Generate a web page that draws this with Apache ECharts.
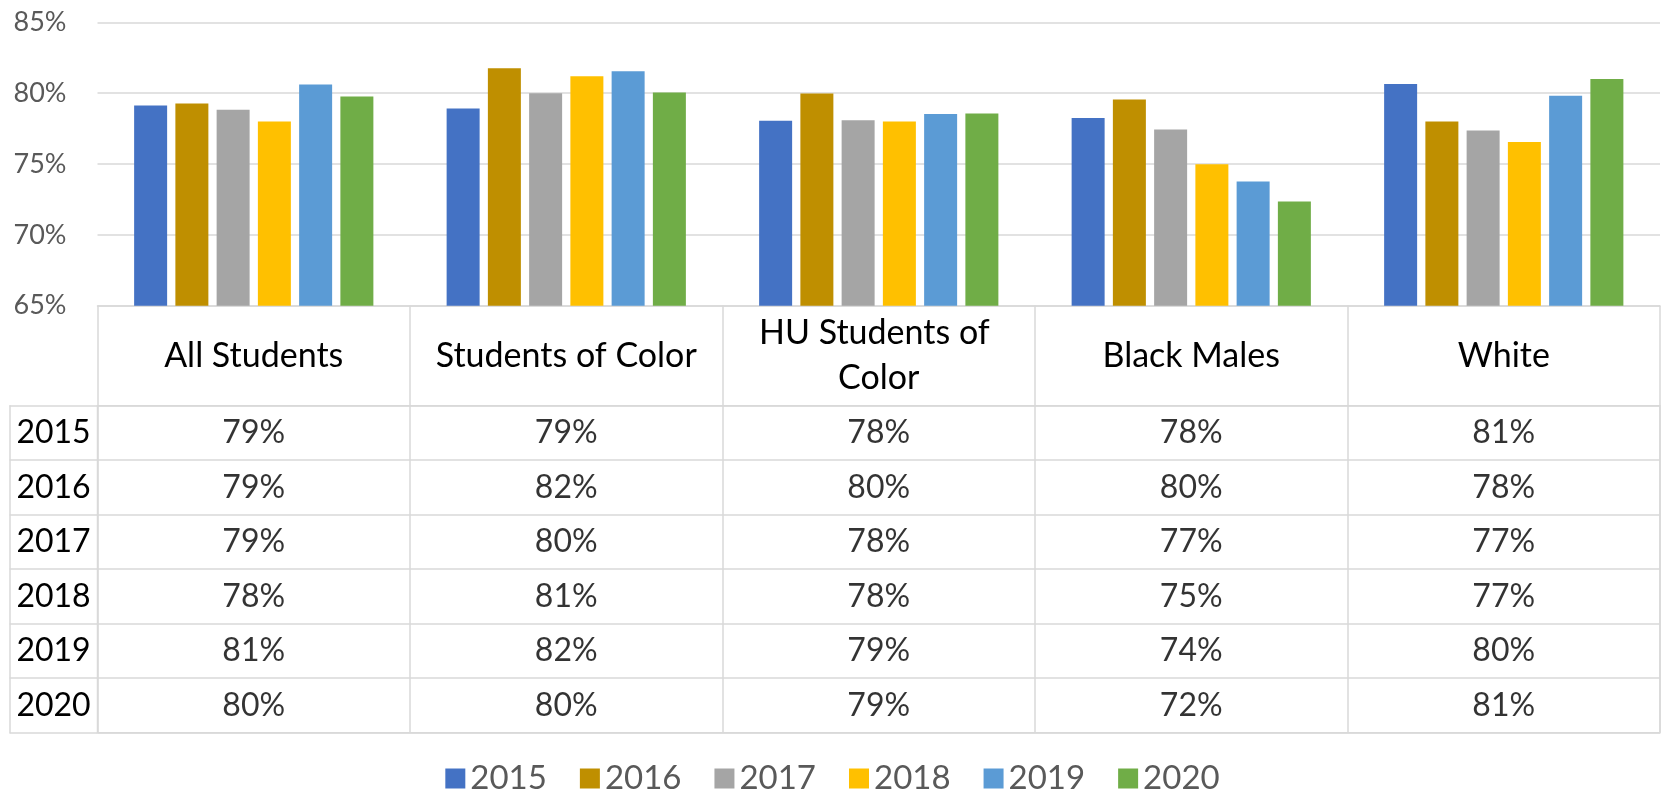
<!DOCTYPE html>
<html>
<head>
<meta charset="utf-8">
<script src="https://cdn.jsdelivr.net/npm/echarts@6/dist/echarts.min.js"></script>
<style>
html,body{margin:0;padding:0;background:#fff;}
#chart{width:1665px;height:790px;}
</style>
</head>
<body>
<div id="chart"></div>
<script>
const categories = ['All Students', 'Students of Color', 'HU Students of Color', 'Black Males', 'White'];
const years = ['2015', '2016', '2017', '2018', '2019', '2020'];
const yTicks = [65, 70, 75, 80, 85];
const v2015 = [79.13, 78.92, 78.05, 78.24, 80.64];
const v2016 = [79.27, 81.76, 79.98, 79.55, 78.0];
const v2017 = [78.82, 80.0, 78.09, 77.44, 77.36];
const v2018 = [78.0, 81.2, 78.0, 74.99, 76.56];
const v2019 = [80.61, 81.55, 78.52, 73.76, 79.81];
const v2020 = [79.76, 80.05, 78.56, 72.35, 80.99];
const seriesValues = [v2015, v2016, v2017, v2018, v2019, v2020];
const colors = ['#4472C4', '#BF8F00', '#A5A5A5', '#FFC000', '#5B9BD5', '#70AD47'];

const FONT = 'Lato';
const LINE = '#D9D9D9';

const barSeries = years.map((y, i) => ({
  name: y,
  type: 'bar',
  xAxisIndex: 0,
  yAxisIndex: 0,
  data: seriesValues[i],
  barWidth: 33,
  barGap: '25%',
  itemStyle: { color: colors[i] }
}));

const tableData = [];
years.forEach((y, r) => {
  categories.forEach((c, k) => {
    tableData.push([k, r, seriesValues[r][k]]);
  });
});

const option = {
  animation: false,
  textStyle: { fontFamily: FONT },
  color: colors,
  legend: {
    data: years,
    left: 'center',
    top: 757,
    icon: 'rect',
    itemWidth: 20,
    itemHeight: 20,
    itemGap: 33,
    textStyle: { fontFamily: FONT, fontSize: 33, color: '#595959' }
  },
  grid: [
    { left: 97.5, right: 5, top: 22.3, height: 283.4, containLabel: false },
    { left: 97.5, right: 5, top: 405.7, height: 327, containLabel: false,
      show: true, borderColor: LINE, borderWidth: 1.5, backgroundColor: 'transparent' }
  ],
  xAxis: [
    {
      type: 'category', gridIndex: 0, data: categories,
      axisLine: { show: true, lineStyle: { color: LINE, width: 1.5 } },
      axisTick: { show: true, length: 100, interval: 0, lineStyle: { color: LINE, width: 1.5 } },
      axisLabel: {
        interval: 0, margin: 50, verticalAlign: 'middle',
        fontFamily: FONT, fontSize: 34, color: '#000', lineHeight: 45,
        width: 290, overflow: 'break'
      }
    },
    {
      type: 'category', gridIndex: 1, data: categories,
      axisLine: { show: false }, axisTick: { show: false }, axisLabel: { show: false },
      splitLine: { show: true, interval: 0, lineStyle: { color: LINE, width: 1.5 } }
    }
  ],
  yAxis: [
    {
      type: 'value', gridIndex: 0, min: yTicks[0], max: yTicks[yTicks.length - 1], interval: 5,
      axisLine: { show: false }, axisTick: { show: false },
      splitLine: { show: true, lineStyle: { color: LINE, width: 1.5 } },
      axisLabel: { formatter: '{value}%', fontFamily: FONT, fontSize: 27, color: '#595959', margin: 31 }
    },
    {
      type: 'category', gridIndex: 1, data: years, inverse: true,
      axisLine: { show: false },
      axisTick: { show: true, length: 88, interval: 0, lineStyle: { color: LINE, width: 1.5 } },
      axisLabel: { interval: 0, align: 'center', margin: 44, fontFamily: FONT, fontSize: 32, color: '#000' },
      splitLine: { show: true, interval: 0, lineStyle: { color: LINE, width: 1.5 } }
    },
    {
      type: 'category', gridIndex: 1, data: years, inverse: true, position: 'left', offset: 88,
      axisLine: { show: true, lineStyle: { color: LINE, width: 1.5 } },
      axisTick: { show: false }, axisLabel: { show: false }, splitLine: { show: false }
    }
  ],
  series: barSeries.concat([{
    type: 'scatter',
    xAxisIndex: 1,
    yAxisIndex: 1,
    data: tableData,
    symbolSize: 1,
    itemStyle: { color: 'transparent' },
    silent: true,
    label: {
      show: true, position: 'inside',
      formatter: p => Math.round(p.value[2]) + '%',
      fontFamily: FONT, fontSize: 32, color: '#000'
    },
    z: 10
  }])
};

const chart = echarts.init(document.getElementById('chart'), null, { renderer: 'canvas' });
chart.setOption(option);
</script>
</body>
</html>
